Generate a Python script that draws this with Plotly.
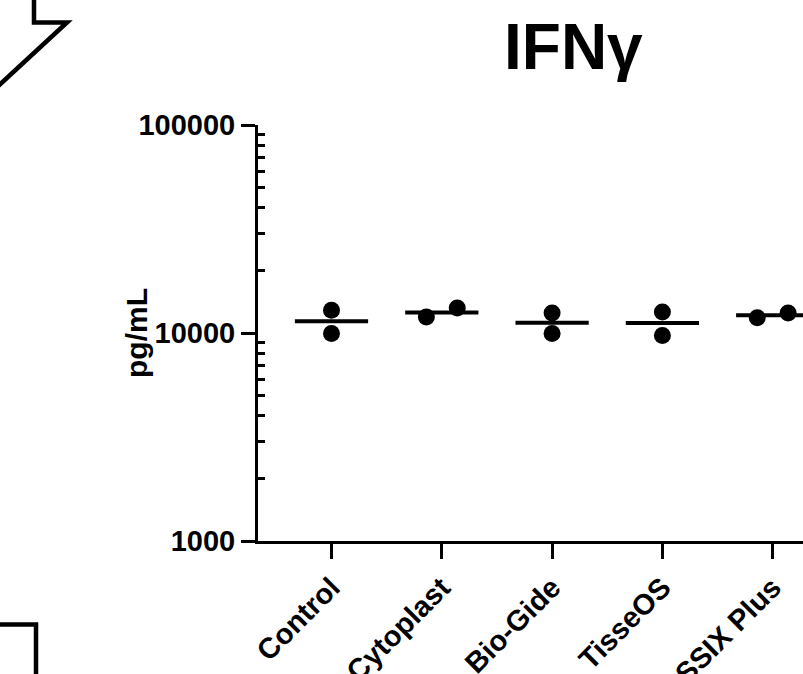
import plotly.graph_objects as go
import numpy as np

# ---- data ----
categories = ["Control", "Cytoplast", "Bio-Gide", "TisseOS", "OSSIX Plus"]
replicate_1 = [12850, 11940, 12470, 12610, 11850]
replicate_2 = [9940, 13180, 9940, 9720, 12470]
y_tick_values = [1000, 10000, 100000]
y_tick_labels = ["1000", "10000", "100000"]
title_text = "IFNγ"
y_title = "pg/mL"

FONT = "Liberation Sans, Arial, Helvetica, sans-serif"

# ---- layout geometry (pixels) ----
W, H = 803, 674
ML, MT, MB, MR = 258, 125, 133, 0
PW, PH = W - ML - MR, H - MT - MB
cat_spacing_px = 110.3
first_cat_px = 331.5
x_min = -(first_cat_px - ML) / cat_spacing_px
x_max = x_min + PW / cat_spacing_px

def px_to_paper_x(px):
    return (px - ML) / PW

def py_to_paper_y(py):
    return (H - MB - py) / PH

# ---- scatter points with Prism-like spreading when points overlap ----
pts_x, pts_y = [], []
line_x, line_y = [], []
half_width = 0.332
spread = 0.14
for i, cat in enumerate(categories):
    vals = sorted([replicate_1[i], replicate_2[i]])
    overlap = abs(np.log10(vals[1]) - np.log10(vals[0])) < 0.08
    offs = [-spread, spread] if overlap else [0.0, 0.0]
    for v, o in zip(vals, offs):
        pts_x.append(i + o)
        pts_y.append(v)
    m = float(np.mean(vals))
    line_x += [i - half_width, i + half_width, None]
    line_y += [m, m, None]

fig = go.Figure()
fig.add_trace(go.Scatter(x=line_x, y=line_y, mode="lines",
                         line=dict(color="black", width=4),
                         hoverinfo="skip", showlegend=False))
fig.add_trace(go.Scatter(x=pts_x, y=pts_y, mode="markers",
                         marker=dict(color="black", size=17, line=dict(width=0)),
                         showlegend=False))

minor_vals = [k * 10 ** n for n in (3, 4) for k in range(2, 10)]

fig.update_layout(
    width=W, height=H, autosize=False,
    margin=dict(l=ML, r=MR, t=MT, b=MB, pad=0, autoexpand=False),
    paper_bgcolor="white", plot_bgcolor="white",
    showlegend=False,
    xaxis=dict(
        range=[x_min, x_max], automargin=False,
        tickmode="array", tickvals=list(range(len(categories))), ticktext=categories,
        tickangle=-45,
        showline=True, linecolor="black", linewidth=3,
        ticks="outside", ticklen=15, tickwidth=3, tickcolor="black",
        showgrid=False, zeroline=False,
        tickfont=dict(family=FONT, size=29, color="black", weight="bold"),
    ),
    yaxis=dict(
        type="log", range=[3, 5], automargin=False,
        tickmode="array", tickvals=y_tick_values, ticktext=y_tick_labels,
        showline=True, linecolor="black", linewidth=3,
        ticks="outside", ticklen=14, tickwidth=3, tickcolor="black",
        showgrid=False, zeroline=False,
        tickfont=dict(family=FONT, size=29, color="black", weight="bold"),
        minor=dict(tickmode="array", tickvals=minor_vals, ticks="inside",
                   ticklen=7, tickwidth=3, tickcolor="black", showgrid=False),
    ),
)

# title
fig.add_annotation(text=title_text, xref="paper", yref="paper",
                   x=px_to_paper_x(573), y=py_to_paper_y(47),
                   xanchor="center", yanchor="middle", showarrow=False,
                   font=dict(family=FONT, size=64, color="black", weight="bold"))
# y axis title
fig.add_annotation(text=y_title, xref="paper", yref="paper",
                   x=px_to_paper_x(136), y=py_to_paper_y(333),
                   xanchor="center", yanchor="middle", showarrow=False, textangle=-90,
                   font=dict(family=FONT, size=30, color="black", weight="bold"))

# fragments of neighbouring panels (cropped edges)
def path_px(points):
    s = ""
    for j, (px, py) in enumerate(points):
        s += ("M" if j == 0 else "L") + f" {px_to_paper_x(px):.5f} {py_to_paper_y(py):.5f} "
    return s

fig.add_shape(type="path", xref="paper", yref="paper",
              path=path_px([(34, -5), (34, 22.5), (67, 22.5), (-5, 89)]),
              line=dict(color="black", width=4.5))
fig.add_shape(type="path", xref="paper", yref="paper",
              path=path_px([(-5, 624.5), (36, 624.5), (36, 690)]),
              line=dict(color="black", width=4.5))

fig.write_html("out.html")
